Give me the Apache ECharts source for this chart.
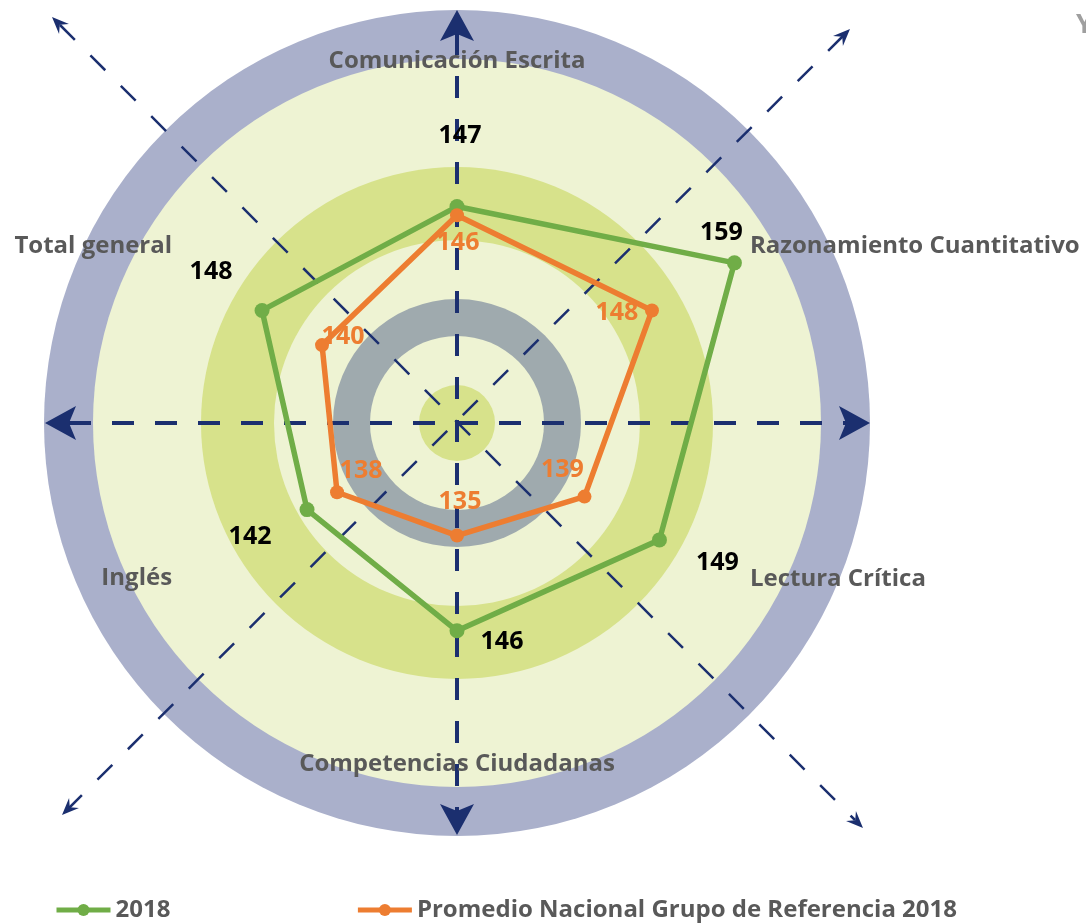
<!DOCTYPE html>
<html>
<head>
<meta charset="utf-8">
<title>Resultados 2018</title>
<script src="https://cdn.jsdelivr.net/npm/echarts@6/dist/echarts.min.js"></script>
<style>
  html, body { margin: 0; padding: 0; background: #fff; }
  #main { width: 1086px; height: 923px; }
</style>
</head>
<body>
<div id="main"></div>
<script>
var categories = ["Comunicación Escrita", "Razonamiento Cuantitativo", "Lectura Crítica", "Competencias Ciudadanas", "Inglés", "Total general"];
var seriesNames = ["2018", "Promedio Nacional Grupo de Referencia 2018"];
var values2018 = [147, 159, 149, 146, 142, 148];
var valuesPromedio = [146, 148, 139, 135, 138, 140];

// label offsets (px from each point)
var offsets2018 = [[3, -71], [-13, -30], [58, 23], [45, 11], [-57, 27], [-51, -39]];
var offsetsPromedio = [[1, 28], [-35, 2], [-22, -27], [3, -34], [24, -21], [21, -8]];
// axis name nudges: [top, right, bottom, left]
var namePadding = [[0, 0, 21, 0], [0, 0, 0, 8], [-20, 0, 0, 8], [0, 0, 0, 0], [-21, 0, 0, 0], [0, 0, 0, 0]];

var cx = 457, cy = 423;
var navy = "#1b2f6f";
var font = "Open Sans";
var rings = [[413, "#aab0cb"], [364, "#eef3d3"], [256, "#d7e28b"], [183, "#eef3d3"], [124, "#9faaae"], [87, "#eef3d3"], [38, "#d7e28b"]];

function buildData(values, offsets) {
  var data = values.map(function (v, i) {
    return { value: [v, i], label: { offset: offsets[i] } };
  });
  // close the polygon
  data.push({ value: [values[0], 0], symbol: "none", label: { show: false } });
  return data;
}

function arrow(tx, ty, ux, uy, len, half, notch) {
  var px = -uy, py = ux;
  return {
    type: "polygon", z: -5, silent: true,
    shape: { points: [
      [tx, ty],
      [tx + ux * len + px * half, ty + uy * len + py * half],
      [tx + ux * notch, ty + uy * notch],
      [tx + ux * len - px * half, ty + uy * len - py * half]
    ] },
    style: { fill: navy }
  };
}

function dashed(x1, y1, x2, y2, w, dash) {
  return {
    type: "line", z: -6, silent: true,
    shape: { x1: x1, y1: y1, x2: x2, y2: y2 },
    style: { stroke: navy, lineWidth: w, lineDash: dash }
  };
}

var elements = rings.map(function (r) {
  return { type: "circle", z: -10, silent: true, shape: { cx: cx, cy: cy, r: r[0] }, style: { fill: r[1] } };
});
var d = Math.SQRT1_2;
elements.push(dashed(69, cy, 846, cy, 4, [22, 21]));
elements.push(dashed(cx, 33, cx, 812, 4, [22, 21]));
elements.push(dashed(60, 25, 855, 820, 2.5, [21, 22]));
elements.push(dashed(843, 36, 69, 808, 2.5, [21, 22]));
elements.push(arrow(cx, 10, 0, 1, 31, 17, 24));
elements.push(arrow(cx, 835, 0, -1, 31, 17, 24));
elements.push(arrow(45, cy, 1, 0, 31, 17, 24));
elements.push(arrow(870, cy, -1, 0, 31, 17, 24));
elements.push(arrow(52, 17, d, d, 17, 7, 11));
elements.push(arrow(863, 828, -d, -d, 17, 7, 11));
elements.push(arrow(850, 29, -d, d, 17, 7, 11));
elements.push(arrow(62, 815, d, -d, 17, 7, 11));
elements.push({ type: "text", z: 5, style: { text: "Y", x: 1076, y: 12, font: "bold 27px 'Open Sans'", fill: "#9f9f9f" } });

var myChart = echarts.init(document.getElementById("main"));

var labelFont = { fontFamily: font, fontWeight: "bold", fontSize: 25 };

var option = {
  animation: false,
  graphic: { elements: elements },
  legend: {
    left: 49,
    top: 893,
    itemWidth: 54,
    itemHeight: 15,
    itemGap: 185,
    lineStyle: { width: 5 },
    textStyle: { color: "#595959", fontFamily: font, fontWeight: "bold", fontSize: 24 }
  },
  polar: { center: [cx, cy], radius: 329 },
  angleAxis: {
    type: "category",
    data: categories.map(function (c, i) {
      return { value: c, textStyle: { padding: namePadding[i] } };
    }),
    // bands of 60deg, first band centred on the top
    startAngle: 120,
    clockwise: true,
    boundaryGap: true,
    axisLine: { show: false },
    axisTick: { show: false },
    splitLine: { show: false },
    axisLabel: { margin: 0, color: "#595959", fontFamily: font, fontWeight: "bold", fontSize: 24 }
  },
  radiusAxis: { min: 122, max: 160, show: false },
  series: [
    {
      name: seriesNames[0],
      type: "line",
      coordinateSystem: "polar",
      clip: false,
      data: buildData(values2018, offsets2018),
      symbol: "circle",
      symbolSize: 15,
      lineStyle: { color: "#70ad47", width: 5.5 },
      itemStyle: { color: "#70ad47" },
      label: Object.assign({ show: true, position: "inside", color: "#000" }, labelFont)
    },
    {
      name: seriesNames[1],
      type: "line",
      coordinateSystem: "polar",
      clip: false,
      data: buildData(valuesPromedio, offsetsPromedio),
      symbol: "circle",
      symbolSize: 14,
      lineStyle: { color: "#ed7d31", width: 5.5 },
      itemStyle: { color: "#ed7d31" },
      label: Object.assign({ show: true, position: "inside", color: "#ed7d31" }, labelFont)
    }
  ]
};

myChart.setOption(option);
</script>
</body>
</html>
